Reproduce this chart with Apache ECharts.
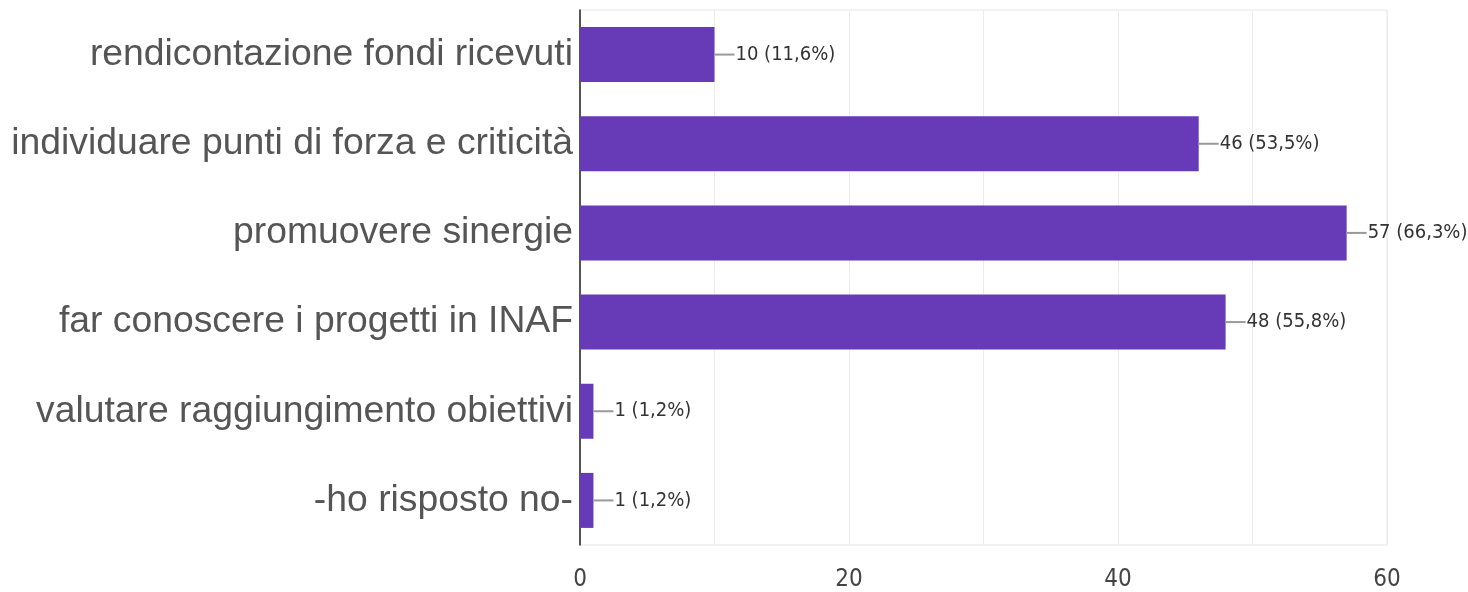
<!DOCTYPE html>
<html>
<head>
<meta charset="utf-8">
<script src="https://cdn.jsdelivr.net/npm/echarts@6/dist/echarts.min.js"></script>
<style>
  html, body { margin: 0; padding: 0; background: #fff; }
  #chart { width: 1468px; height: 592px; }
</style>
</head>
<body>
<div id="chart"></div>
<script>
const categories = [
  "rendicontazione fondi ricevuti",
  "individuare punti di forza e criticità",
  "promuovere sinergie",
  "far conoscere i progetti in INAF",
  "valutare raggiungimento obiettivi",
  "-ho risposto no-"
];
const counts = [10, 46, 57, 48, 1, 1];
const percents = ["11,6", "53,5", "66,3", "55,8", "1,2", "1,2"];

const narrowFont = "'DejaVu Sans Condensed', 'DejaVu Sans', sans-serif";

const chart = echarts.init(document.getElementById("chart"));
const option = {
  animation: false,
  grid: {
    left: 580, right: 81, top: 10, bottom: 47,
    show: true, borderColor: "#e6e6e6", borderWidth: 1
  },
  xAxis: {
    type: "value",
    min: 0, max: 60, interval: 20,
    axisLine: { show: false },
    axisTick: { show: false },
    splitLine: { lineStyle: { color: "#ececec", width: 1 } },
    minorTick: { show: false, splitNumber: 2 },
    minorSplitLine: { show: true, lineStyle: { color: "#ececec", width: 1 } },
    axisLabel: {
      margin: 23,
      fontFamily: narrowFont,
      fontSize: 24,
      color: "#444"
    }
  },
  yAxis: {
    type: "category",
    inverse: true,
    data: categories,
    axisLine: { show: true, lineStyle: { color: "#222", width: 1.5 } },
    axisTick: { show: false },
    axisLabel: {
      margin: 7,
      fontFamily: "Liberation Sans, Arial, sans-serif",
      fontSize: 37.3,
      color: "#555"
    }
  },
  series: [{
    type: "bar",
    data: counts,
    barWidth: 55,
    itemStyle: { color: "#673ab7" },
    label: {
      show: true,
      position: "right",
      distance: 0,
      formatter: function (p) {
        return "{ln|}{t|" + counts[p.dataIndex] + " (" + percents[p.dataIndex] + "%)}";
      },
      rich: {
        ln: { width: 20, height: 2, backgroundColor: "#999" },
        t: {
          fontFamily: narrowFont,
          fontSize: 20,
          color: "#333",
          padding: [0, 0, 0, 1]
        }
      }
    }
  }]
};
chart.setOption(option);
</script>
</body>
</html>
